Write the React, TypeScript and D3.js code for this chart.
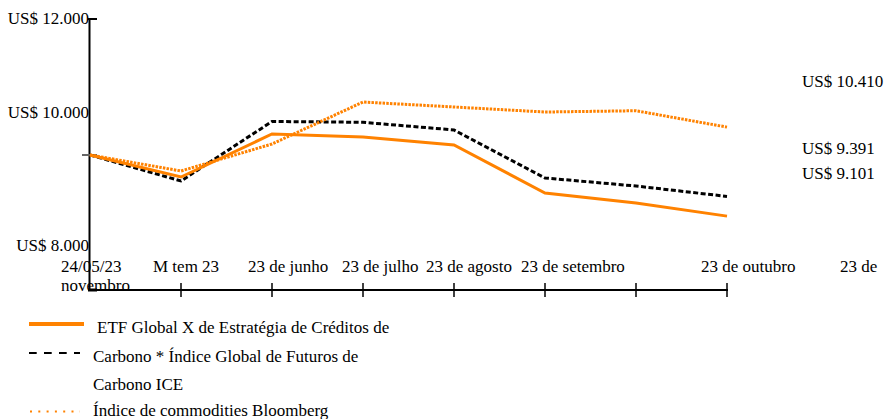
import React from "react";
import * as d3 from "d3";

// ---- Data ----
const dates = ["24/05/23", "mai 23", "jun 23", "jul 23", "ago 23", "set 23", "out 23", "nov 23"];
const etfValues = [10000, 9676, 10309, 10265, 10147, 9441, 9294, 9101];
const iceValues = [10000, 9618, 10493, 10481, 10368, 9662, 9544, 9391];
const bloombergValues = [10000, 9765, 10162, 10779, 10706, 10632, 10651, 10410];
const xTickLabels = ["24/05/23", "M tem 23", "23 de junho", "23 de julho", "23 de agosto", "23 de setembro", "23 de outubro", "23 de"];
const xWrapLabel = "novembro";
const yTickValues = [12000, 10000, 8000];
const endValues = [10410, 9391, 9101];
const legendLabels = [
  "ETF Global X de Estratégia de Créditos de",
  "Carbono * Índice Global de Futuros de",
  "Carbono ICE",
  "Índice de commodities Bloomberg",
];

// ---- Layout ----
const W = 886;
const H = 419;
const FONT = "'Liberation Serif', 'Times New Roman', serif";
const FS = 17;
const ORANGE = "#ff8200";
const xLabelX = [61, 153, 248, 342, 426, 521, 701, 840];
const xLabelBaseline = 272;
const yLabelBaselines = [24, 118, 251];
const endLabelBaselines = [87, 154, 179];

const locale = d3.formatLocale({ decimal: ",", thousands: ".", grouping: [3], currency: ["US$ ", ""] });
const fmt = locale.format("$,.0f");

export default function App() {
  const x = d3.scalePoint<string>().domain(dates).range([90, 727]);
  const y = d3.scaleLinear().domain([8000, 12000]).range([291, 19]);
  const line = d3
    .line<number>()
    .x((_, i) => x(dates[i]) as number)
    .y((d) => y(d));

  return (
    <svg
      width={W}
      height={H}
      style={{ position: "absolute", left: 0, top: 0, background: "#fff" }}
      fontFamily={FONT}
      fontSize={FS}
    >
      <rect width={W} height={H} fill="#fff" />
      {/* Y axis */}
      <line x1={89.5} x2={89.5} y1={y(12000)} y2={291} stroke="#000" strokeWidth={2} />
      <line x1={88} x2={97} y1={y(12000)} y2={y(12000)} stroke="#000" strokeWidth={2} />
      <line x1={82} x2={97} y1={y(10000)} y2={y(10000)} stroke="#666" strokeWidth={2} />
      <line x1={88} x2={97} y1={290} y2={290} stroke="#000" strokeWidth={3} />
      {yTickValues.map((v, i) => (
        <text key={v} x={89} y={yLabelBaselines[i]} textAnchor="end" fill="#000">
          {fmt(v)}
        </text>
      ))}
      {/* X axis */}
      <line x1={89} x2={728} y1={290} y2={290} stroke="#000" strokeWidth={2} />
      {dates.slice(1).map((d) => (
        <line key={d} x1={x(d)} x2={x(d)} y1={283} y2={297} stroke="#000" strokeWidth={1.5} />
      ))}
      {xTickLabels.map((t, i) => (
        <text key={t} x={xLabelX[i]} y={xLabelBaseline} fill="#000">
          {t}
        </text>
      ))}
      <text x={xLabelX[0]} y={291} fill="#000">
        {xWrapLabel}
      </text>
      {/* Lines */}
      <path d={line(iceValues) || ""} fill="none" stroke="#000" strokeWidth={3} strokeDasharray="5,2.5" />
      <path d={line(etfValues) || ""} fill="none" stroke={ORANGE} strokeWidth={3} />
      <path d={line(bloombergValues) || ""} fill="none" stroke={ORANGE} strokeWidth={3} strokeDasharray="2.5,1.2" />
      {/* End labels */}
      {endValues.map((v, i) => (
        <text key={v} x={802} y={endLabelBaselines[i]} fill="#000">
          {fmt(v)}
        </text>
      ))}
      {/* Legend */}
      <line x1={29} x2={84} y1={324} y2={324} stroke={ORANGE} strokeWidth={4} />
      <line x1={29} x2={80} y1={353} y2={353} stroke="#000" strokeWidth={2} strokeDasharray="7.7,7.3" />
      <line x1={30} x2={80} y1={411.5} y2={411.5} stroke={ORANGE} strokeWidth={2} strokeDasharray="2,6.3" />
      <text x={97} y={333} fill="#000">{legendLabels[0]}</text>
      <text x={93} y={362} fill="#000">{legendLabels[1]}</text>
      <text x={93} y={390} fill="#000">{legendLabels[2]}</text>
      <text x={93} y={416} fill="#000">{legendLabels[3]}</text>
    </svg>
  );
}
